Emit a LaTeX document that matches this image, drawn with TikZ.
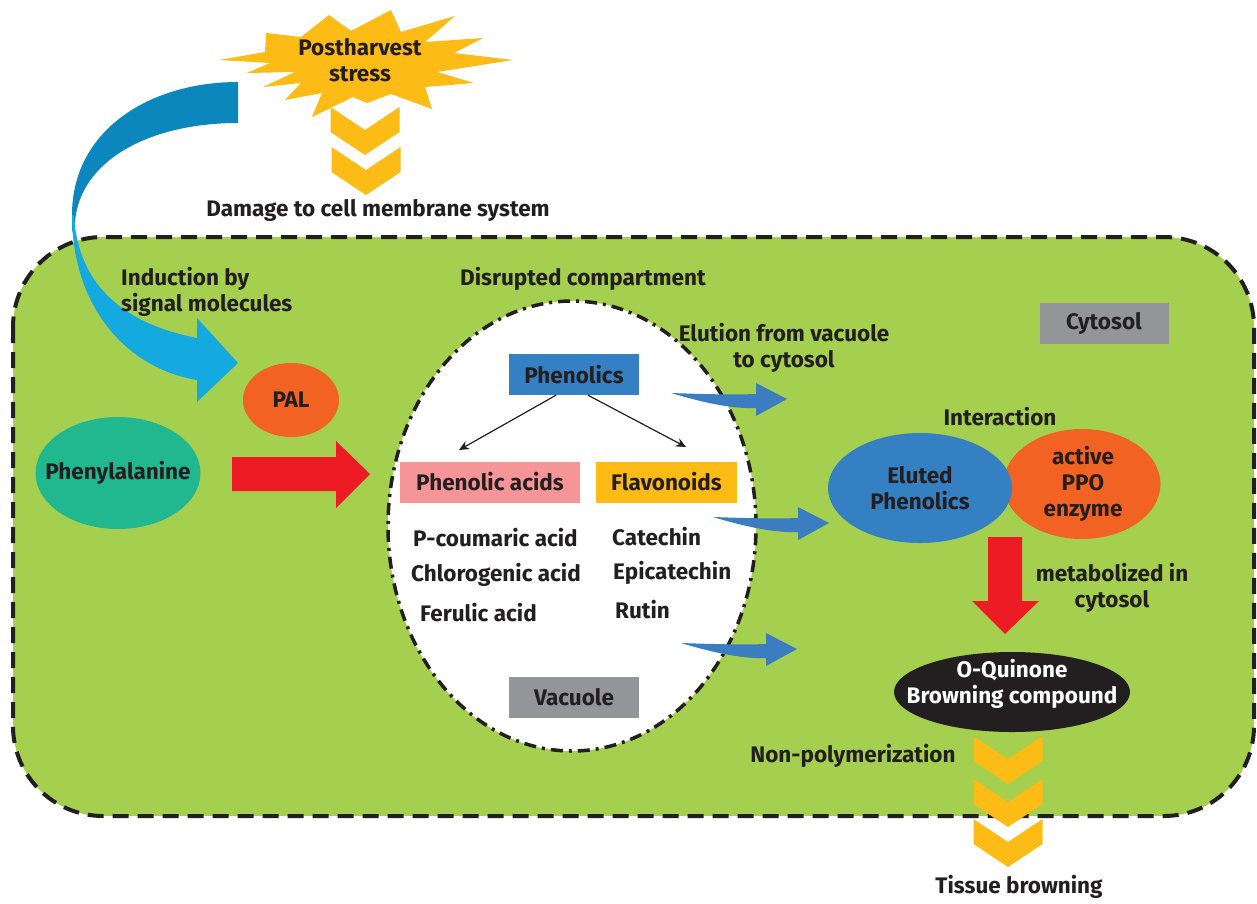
\documentclass[tikz,border=0pt]{standalone}
\usepackage{fontspec}
\setmainfont{Fira Sans}
\usetikzlibrary{shapes.geometric,arrows.meta}
\definecolor{cellgreen}{HTML}{A5CF4F}
\definecolor{txt}{HTML}{231F20}
\definecolor{stary}{HTML}{FDBB16}
\definecolor{darkblue}{HTML}{0B87BD}
\definecolor{lightblue}{HTML}{14A9DF}
\definecolor{arrowblue}{HTML}{3A7EC1}
\definecolor{boxblue}{HTML}{3580C2}
\definecolor{redarrow}{HTML}{ED1C24}
\definecolor{orangeell}{HTML}{F26222}
\definecolor{tealell}{HTML}{21B88F}
\definecolor{grayb}{HTML}{939598}
\definecolor{pinkb}{HTML}{F59598}
\begin{document}
\begin{tikzpicture}[x=1pt,y=-1pt,
  every node/.style={text=txt, font=\fontsize{22.5}{26}\selectfont\bfseries, inner sep=0pt},
  lbl/.style={align=center},
  cbox/.style={minimum height=41pt, inner sep=0pt},
  ell/.style={ellipse, inner sep=0pt},
  chev/.pic={\fill[stary] (-34.5,0) -- (0,23) -- (34.5,0) -- (34.5,25) -- (0,48) -- (-34.5,25) -- cycle;},
  swoosh/.pic={\fill[arrowblue] (0,0) .. controls (30,9) and (60,16) .. (85,15) -- (85,23) -- (116,6) -- (85,-10) -- (85,1) .. controls (60,2) and (30,1) .. (0,0) -- cycle;},
  thinarrow/.style={-{Stealth[length=10pt,width=9pt]}, line width=1.2pt, draw=txt}
]
\useasboundingbox (0,0) rectangle (1257,903);

% cell
\draw[fill=cellgreen, rounded corners=90pt, dash pattern=on 16pt off 9pt, line width=4pt, draw=txt]
  (13,237) rectangle (1254,816);

% ribbon arrow
\fill[darkblue] (238,82) .. controls (150,82) and (72,130) .. (72,215) -- (72,233)
  -- (75,222) .. controls (80,160) and (150,123) .. (238,123) -- cycle;
\fill[lightblue] (72,215) .. controls (72,305) and (125,368) .. (197,380) -- (197,402) -- (238,363)
  -- (197,318) -- (197,338) .. controls (130,325) and (78,290) .. (74,215) -- cycle;

% starburst
\fill[stary] (219,60) -- (265,52) -- (266,33) -- (301,37) -- (329,15) -- (351,31) -- (391,10)
  -- (401,32) -- (455,16) -- (425,42) -- (483,38) -- (454,53) -- (513,60) -- (437,72)
  -- (474,83) -- (425,87) -- (432,109) -- (391,94) -- (367,103) -- (353,97) -- (312,117)
  -- (322,93) -- (285,100) -- (301,83) -- (263,87) -- (295,72) -- (247,73) -- (270,63) -- cycle;
\node[lbl] (stress) at (360,60) {Postharvest\\stress};

\pic at (365,107) {chev};
\pic at (366,147) {chev};

\node (damage) at (378,210) {Damage to cell membrane system};
\node[align=left, anchor=west] (induct) at (121,292) {Induction by\\signal molecules};
\node (disrupt) at (583,279) {Disrupted compartment};

% vacuole
\node[ellipse, draw=txt, fill=white, minimum width=368pt, minimum height=450pt,
  dash pattern=on 12pt off 6pt on 3pt off 6pt, line width=3.5pt] (vac) at (572,526) {};

% left side
\node[ell, fill=tealell, minimum width=165pt, minimum height=112pt] (phe) at (118,473) {};
\node (phe-t) at (phe.center) {Phenylalanine};
\node[ell, fill=orangeell, minimum width=96pt, minimum height=74pt] (pal) at (291,400) {};
\node (pal-t) at (pal.center) {PAL};
\fill[redarrow] (232,457) -- (336,457) -- (336,441) -- (370,474) -- (336,508) -- (336,491) -- (232,491) -- cycle;

% vacuole content
\node[cbox, fill=boxblue, minimum width=130pt] (phen) at (574,374.5) {Phenolics};
\node[cbox, fill=pinkb, minimum width=180pt] (pacid) at (490,482) {Phenolic acids};
\node[cbox, fill=stary, minimum width=141pt] (flav) at (666.5,482) {Flavonoids};
\draw[thinarrow] (phen.south) ++(-18,0) coordinate (pa1) -- (459,450) coordinate (pa2);
\draw[thinarrow] (phen.south) ++(14,0) coordinate (pb1) -- (686,447) coordinate (pb2);

\node[anchor=west] (pcou) at (413,538) {P-coumaric acid};
\node[anchor=west] (chlo) at (411,575) {Chlorogenic acid};
\node[anchor=west] (feru) at (420,613) {Ferulic acid};
\node[anchor=west] (cate) at (612,537) {Catechin};
\node[anchor=west] (epic) at (613,573) {Epicatechin};
\node[anchor=west] (ruti) at (615,610) {Rutin};

\node[cbox, fill=grayb, minimum width=130pt] (vlabel) at (574,697) {Vacuole};
\node[cbox, fill=grayb, minimum width=129pt] (clabel) at (1104,323) {Cytosol};

% elution arrows
\node[lbl] (elut) at (784,348) {Elution from vacuole\\to cytosol};
\pic at (671,393) {swoosh};
\pic at (713,517) {swoosh};
\pic at (681,643) {swoosh};

% right side
\node (inter) at (1000,417) {Interaction};
\node[ell, fill=orangeell, minimum width=157pt, minimum height=110pt] (ppo) at (1082,484) {};
\node[ell, fill=boxblue, minimum width=184pt, minimum height=110pt] (elph) at (920,488) {};
\node[lbl] (ppo-t) at (1083,484) {active\\PPO\\enzyme};
\node[lbl] (elph-t) at (920,488) {Eluted\\Phenolics};
\fill[redarrow] (988,537) -- (1022,537) -- (1022,601) -- (1039,601) -- (1005,634) -- (972,601) -- (988,601) -- cycle;
\node[lbl] (metab) at (1112,588) {metabolized in\\cytosol};
\node[ell, fill=txt, minimum width=236pt, minimum height=80pt] (quin) at (1012,692) {};
\node[lbl, text=white] (quin-t) at (1012,684) {O-Quinone\\Browning compound};

\node (nonpol) at (853,756) {Non-polymerization};
\pic at (1008,736) {chev};
\pic at (1008,779) {chev};
\pic at (1008,819) {chev};
\node (tissue) at (1019,887) {Tissue browning};
\end{tikzpicture}
\end{document}
